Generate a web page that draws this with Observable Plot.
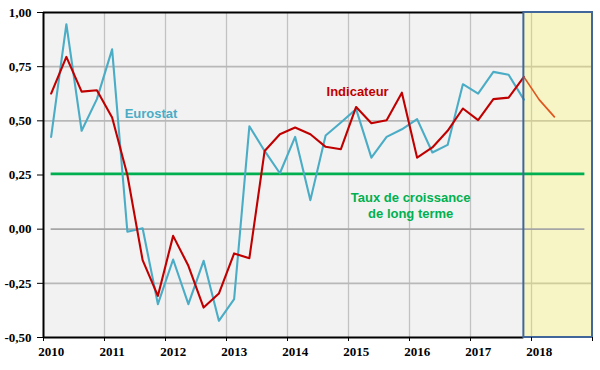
<!DOCTYPE html>
<html>
<head>
<meta charset="utf-8">
<script src="https://cdn.jsdelivr.net/npm/d3@7"></script>
<script src="https://cdn.jsdelivr.net/npm/@observablehq/plot@0.6"></script>
<style>
  html, body { margin: 0; padding: 0; background: #ffffff; }
  #chart { width: 600px; height: 370px; }
</style>
</head>
<body>
<div id="chart"></div>
<script>
// ---- Data (quarterly growth, %) ----
const firstYear = 2010;
const yearLabels = [2010, 2011, 2012, 2013, 2014, 2015, 2016, 2017, 2018];
const yearTicks = [2010, 2011, 2012, 2013, 2014, 2015, 2016, 2017, 2018, 2019];
const yTicks = [-0.5, -0.25, 0, 0.25, 0.5, 0.75, 1];

// 2010 T1 ... 2017 T4
const eurostat = [0.426, 0.946, 0.454, 0.600, 0.830, -0.012, 0.004, -0.346,
                  -0.140, -0.346, -0.146, -0.423, -0.323, 0.475, 0.361, 0.258,
                  0.426, 0.134, 0.432, 0.492, 0.554, 0.330, 0.426, 0.461,
                  0.508, 0.354, 0.389, 0.669, 0.626, 0.726, 0.713, 0.598];
const indicateur = [0.626, 0.795, 0.635, 0.641, 0.515, 0.250, -0.143, -0.308,
                    -0.031, -0.169, -0.362, -0.297, -0.112, -0.134, 0.361, 0.438,
                    0.469, 0.438, 0.380, 0.369, 0.564, 0.489, 0.503, 0.630,
                    0.330, 0.377, 0.454, 0.557, 0.503, 0.600, 0.607, 0.703];
// 2017 T4 ... 2018 T2 (prévision)
const prevision = [0.703, 0.598, 0.518];
const prevStartIndex = 31;
const tauxLongTerme = 0.255;
const lastQuarterIndex = 35; // 2018 T4

const seriesLabels = [
  {text: "Eurostat", x: 2011.33, y: 0.532, color: "#4bacc6"},
  {text: "Indicateur", x: 2014.64, y: 0.635, color: "#c00000"}
];
const ltLabel = [{text: "Taux de croissance\nde long terme", x: 2016.02, y: 0.113, color: "#00b050"}];

// ---- Build tables ----
const qx = i => firstYear + i / 4 + 0.125;
const euroData = eurostat.map((v, i) => ({x: qx(i), y: v}));
const indData = indicateur.map((v, i) => ({x: qx(i), y: v}));
const prevData = prevision.map((v, i) => ({x: qx(prevStartIndex + i), y: v}));
const xStart = firstYear;
const xEnd = yearTicks[yearTicks.length - 1];
const xPrev = firstYear + prevStartIndex / 4 + 0.125;
const yMin = yTicks[0], yMax = yTicks[yTicks.length - 1];
const hGrid = [-0.25, 0.5, 0.75];
const hGridRows = hGrid.map(v => ({y: v}));
const vGridHist = yearLabels.filter(d => d > xStart && d < xPrev);
const vGridPrev = yearLabels.filter(d => d > xPrev);

const fmt = d => d.toFixed(2).replace(".", ",");
const labelFont = {fontSize: 13, fontWeight: "bold", fontFamily: "Liberation Sans, Arial, sans-serif"};

const chart = Plot.plot({
  width: 600,
  height: 370,
  marginLeft: 43,
  marginRight: 8,
  marginTop: 12,
  marginBottom: 33,
  x: {domain: [xStart, xEnd]},
  y: {domain: [yMin, yMax]},
  style: {background: "#ffffff", fontFamily: "Liberation Sans, Arial, sans-serif"},
  marks: [
    // plot area backgrounds
    Plot.rect([{x1: xStart, x2: xPrev, y1: yMin, y2: yMax}], {x1: "x1", x2: "x2", y1: "y1", y2: "y2", fill: "#f2f2f2"}),
    Plot.rect([{x1: xPrev, x2: xEnd, y1: yMin, y2: yMax}], {x1: "x1", x2: "x2", y1: "y1", y2: "y2", fill: "#f7f5c5"}),
    // grid
    Plot.gridX({ticks: vGridHist, stroke: "#c2c2c2", strokeOpacity: 1, strokeWidth: 1.3}),
    Plot.gridX({ticks: vGridPrev, stroke: "#d2ce9e", strokeOpacity: 1, strokeWidth: 1.3}),
    Plot.ruleY(hGridRows, {y: "y", x1: xStart, x2: xPrev, stroke: "#b8b8b8", strokeOpacity: 1, strokeWidth: 1.6}),
    Plot.ruleY(hGridRows, {y: "y", x1: xPrev, x2: xEnd, stroke: "#d0cc9c", strokeOpacity: 1, strokeWidth: 1.6}),
    Plot.ruleY([0], {x1: qx(0), x2: qx(lastQuarterIndex), stroke: "#a6a6a6", strokeWidth: 1.6}),
    // long-term growth rate
    Plot.ruleY([tauxLongTerme], {x1: qx(0), x2: qx(lastQuarterIndex), stroke: "#00b050", strokeWidth: 2.6}),
    // series
    Plot.line(euroData, {x: "x", y: "y", stroke: "#4bacc6", strokeWidth: 2.1}),
    Plot.line(indData, {x: "x", y: "y", stroke: "#c00000", strokeWidth: 2.1}),
    Plot.line(prevData, {x: "x", y: "y", stroke: "#e0561f", strokeWidth: 1.7}),
    // frame
    Plot.ruleX([xStart], {stroke: "#000000", strokeWidth: 2}),
    Plot.ruleY([yMax, yMin], {x1: xStart, x2: xPrev, stroke: "#000000", strokeWidth: 2}),
    Plot.rect([{x1: xPrev, x2: xEnd, y1: yMin, y2: yMax}], {x1: "x1", x2: "x2", y1: "y1", y2: "y2", fill: "none", stroke: "#41669a", strokeWidth: 2}),
    // axes
    Plot.axisY({ticks: yTicks, tickFormat: fmt, tickSize: 6, tickPadding: 6,
      fontFamily: "Liberation Serif, Times New Roman, serif", fontWeight: "bold", fontSize: 13, fill: "#000", stroke: "#000"}),
    Plot.axisX({ticks: yearTicks, tickFormat: () => "", tickSize: 4, stroke: "#000"}),
    Plot.axisX(yearLabels.map(d => d + 0.125), {tickFormat: d => String(Math.floor(d)), tickSize: 0, tickPadding: 9.5,
      fontFamily: "Liberation Serif, Times New Roman, serif", fontWeight: "bold", fontSize: 13, fill: "#000"}),
    // labels
    Plot.text(seriesLabels, {x: "x", y: "y", text: "text", fill: "color", textAnchor: "start", ...labelFont}),
    Plot.text(ltLabel, {x: "x", y: "y", text: "text", fill: "color", textAnchor: "middle", lineHeight: 1.25, ...labelFont})
  ]
});
document.getElementById("chart").appendChild(chart);
</script>
</body>
</html>
